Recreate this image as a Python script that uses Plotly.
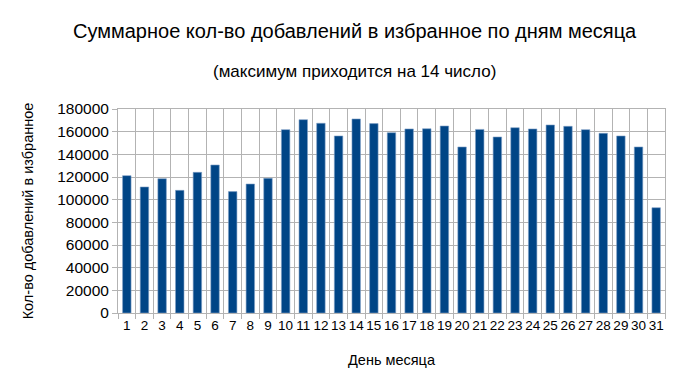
import plotly.graph_objects as go

days = [str(i) for i in range(1, 32)]
values = [121200, 111200, 118500, 108200, 124100, 130600, 107100, 113800, 118800, 161800,
          170600, 167400, 156200, 171200, 167100, 159100, 162400, 162600, 165000, 146500,
          162000, 155300, 163500, 162400, 165900, 164700, 161800, 158500, 156200, 146500,
          92900]
y_ticks = list(range(0, 180001, 20000))

title = "Суммарное кол-во добавлений в избранное по дням месяца"
subtitle = "(максимум приходится на 14 число)"
x_title = "День месяца"
y_title = "Кол-во добавлений в избранное"

fig = go.Figure(go.Bar(
    x=days, y=values,
    marker=dict(color="#004586", line=dict(color="#7f9fc6", width=0.6)),
))

grid = "#b3b3b3"
fig.update_layout(
    width=685, height=382,
    margin=dict(l=110, r=28, t=101, b=77),
    plot_bgcolor="white", paper_bgcolor="white",
    bargap=0.52,
    showlegend=False,
    font=dict(family="Liberation Sans, Arial, sans-serif", color="black", size=13),
    xaxis=dict(
        type="category", tickson="boundaries", ticks="outside", ticklen=5,
        tickcolor=grid, showgrid=True, gridcolor=grid, gridwidth=1,
        showline=True, linecolor=grid, mirror=True,
        tickfont=dict(size=13.5), tickangle=0, automargin=False,
        title=dict(text=x_title, font=dict(size=14.5), standoff=22),
    ),
    yaxis=dict(
        range=[0, 180000], tickvals=y_ticks, ticktext=[str(v) for v in y_ticks],
        ticks="outside", ticklen=5, tickcolor=grid, automargin=False,
        showgrid=True, gridcolor=grid, gridwidth=1, zeroline=False,
        showline=True, linecolor=grid, mirror=True,
        tickfont=dict(size=15.5),
        title=dict(text=y_title, font=dict(size=14.5), standoff=20),
    ),
    annotations=[
        dict(text=title, xref="paper", yref="paper", x=0.5, y=1, xshift=-(110-28)/2 + 4,
             yshift=78, showarrow=False, font=dict(size=20), xanchor="center", yanchor="middle"),
        dict(text=subtitle, xref="paper", yref="paper", x=0.5, y=1, xshift=-(110-28)/2 + 4,
             yshift=38, showarrow=False, font=dict(size=17), xanchor="center", yanchor="middle"),
    ],
)

fig.write_html("out.html")
